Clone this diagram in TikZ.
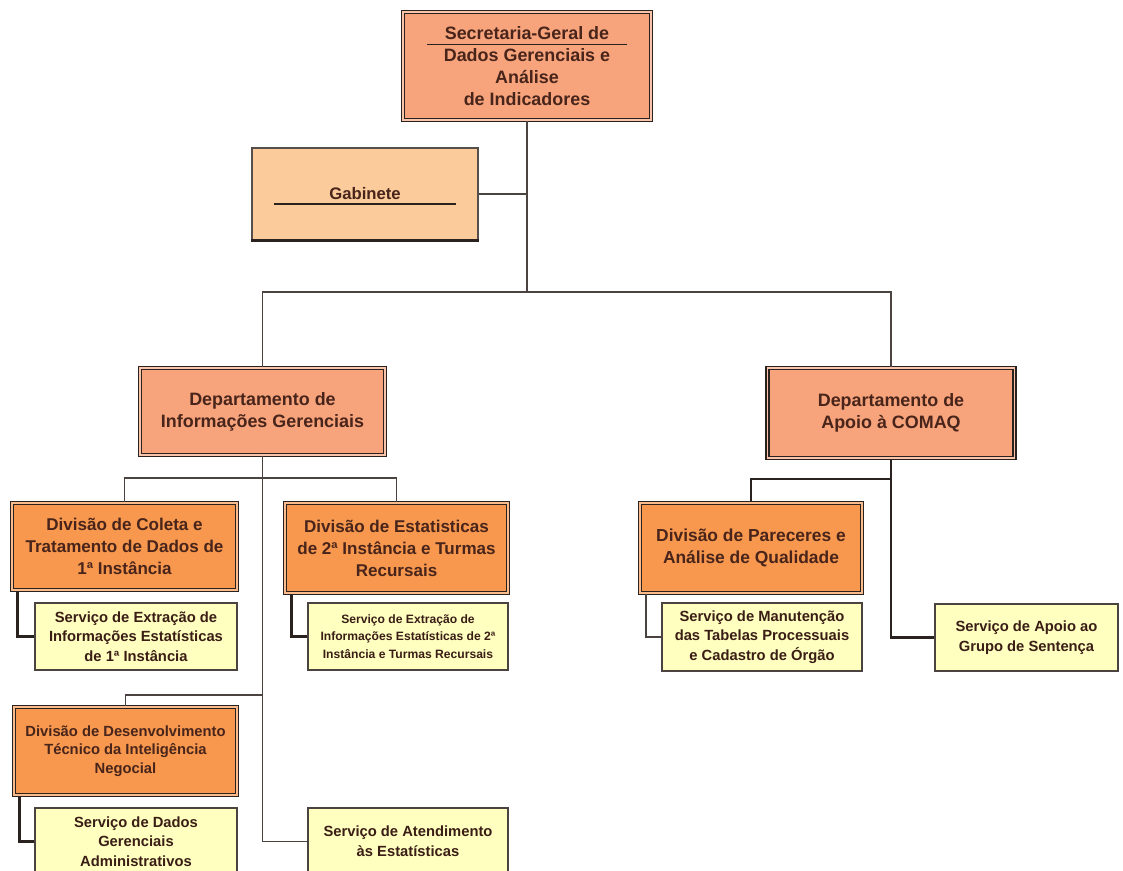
\documentclass[tikz,border=0pt]{standalone}
\usepackage{fontspec}
\setmainfont{Liberation Sans}
\usetikzlibrary{calc,positioning}
\definecolor{secfill}{RGB}{247,164,124}
\definecolor{gabfill}{RGB}{251,203,155}
\definecolor{divfill}{RGB}{247,152,78}
\definecolor{serfill}{RGB}{255,255,192}
\definecolor{boxtext}{RGB}{72,36,26}
\definecolor{edge}{RGB}{42,34,30}

\tikzset{
  orgbox/.style={draw=edge, line width=0.9pt, double=#1!65!white,
    double distance=0.7pt, fill=#1, align=center, inner sep=2pt,
    text=boxtext, font=\bfseries\fontsize{10.2}{12.5}\selectfont},
  gabbox/.style={draw=edge!80, line width=0.6pt, fill=gabfill,
    text=boxtext, font=\bfseries\fontsize{9.5}{12}\selectfont},
  serbox/.style={draw=edge!85, line width=0.9pt, fill=serfill,
    align=center, inner sep=2pt, text=boxtext!80!black,
    font=\bfseries\fontsize{8.4}{11.2}\selectfont},
  link/.style={draw=edge!85, line width=0.8pt},
  thicklink/.style={draw=edge, line width=1.5pt}
}

\begin{document}
\begin{tikzpicture}[x=0.02cm, y=-0.02cm]

\useasboundingbox (0,0) rectangle (1123,870);
\clip (0,0) rectangle (1123,870);

% Top of the chart
\node[orgbox=secfill, minimum width=4.96cm, minimum height=2.16cm] (sec) at (527,66)
  {Secretaria-Geral de\\Dados Gerenciais e\\Análise\\de Indicadores};
\draw[edge, line width=0.8pt] ($(sec.north west)+(25,33)$) -- ($(sec.north east)+(-25,33)$);

\node[gabbox, minimum width=4.52cm, minimum height=1.84cm] (gab) at (365,194) {Gabinete};
\draw[edge, line width=0.8pt] ($(gab.west)+(23,10)$) -- ($(gab.east)+(-23,10)$);
\draw[edge, line width=1.5pt] (gab.south west) -- (gab.south east);

% Departments
\node[orgbox=secfill, minimum width=4.9cm, minimum height=1.74cm] (dig) at (262.5,411.5)
  {Departamento de\\Informações Gerenciais};
\node[orgbox=secfill, minimum width=4.94cm, minimum height=1.8cm] (dac) at (891,413)
  {Departamento de\\Apoio à COMAQ};

% Divisions
\node[orgbox=divfill, minimum width=4.5cm, minimum height=1.74cm,
  font=\bfseries\fontsize{9.7}{12.5}\selectfont] (dcol) at (124.5,546.5)
  {Divisão de Coleta e\\Tratamento de Dados de\\1ª Instância};
\node[orgbox=divfill, minimum width=4.46cm, minimum height=1.8cm,
  font=\bfseries\fontsize{9.7}{12.5}\selectfont] (dest) at (396.5,548)
  {Divisão de Estatisticas\\de 2ª Instância e Turmas\\Recursais};
\node[orgbox=divfill, minimum width=4.44cm, minimum height=1.8cm,
  font=\bfseries\fontsize{9.9}{12.5}\selectfont] (dpar) at (751,548)
  {Divisão de Pareceres e\\Análise de Qualidade};
\node[orgbox=divfill, minimum width=4.46cm, minimum height=1.76cm,
  font=\bfseries\fontsize{8.4}{10.6}\selectfont] (ddes) at (125.5,751)
  {Divisão de Desenvolvimento\\Técnico da Inteligência\\Negocial};

% Services
\node[serbox, minimum width=4.04cm, minimum height=1.34cm] (sext1) at (136,636.5)
  {Serviço de Extração de\\Informações Estatísticas\\de 1ª Instância};
\node[serbox, minimum width=4cm, minimum height=1.34cm,
  font=\bfseries\fontsize{6.9}{10}\selectfont] (sext2) at (408,636.5)
  {Serviço de Extração de\\Informações Estatísticas de 2ª\\Instância e Turmas Recursais};
\node[serbox, minimum width=4cm, minimum height=1.36cm] (sman) at (762,637)
  {Serviço de Manutenção\\das Tabelas Processuais\\e Cadastro de Órgão};
\node[serbox, minimum width=3.66cm, minimum height=1.34cm] (sapo) at (1026.5,637.5)
  {Serviço de Apoio ao\\Grupo de Sentença};
\node[serbox, minimum width=4.04cm, minimum height=1.34cm] (sdad) at (136,841.5)
  {Serviço de Dados\\Gerenciais\\Administrativos};
\node[serbox, minimum width=4cm, minimum height=1.34cm] (satd) at (408,841.5)
  {Serviço de Atendimento\\às Estatísticas};

% Junctions
\coordinate (j1) at (527,292);
\coordinate (j2) at (262,478);
\coordinate (j3) at (262,695);
\coordinate (j4) at (891,479);

% Connectors
\draw[link, line width=1.2pt] (sec.south) -- (j1);
\draw[link] (gab.east) -- (sec.south |- gab.east);
\draw[link, line width=1.1pt] (dig.north) |- (j1) -| (dac.north);
\draw[link] (dig.south) |- (satd.west);
\draw[link] (dcol.north) |- (j2) -| (dest.north);
\draw[link] (ddes.north) |- (j3);
\draw[thicklink] (dac.south) |- (sapo.west);
\draw[thicklink] (dpar.north) |- (j4);
\draw[thicklink] ([xshift=0.12cm]dcol.south west) |- (sext1.west);
\draw[thicklink] ([xshift=0.14cm]dest.south west) |- (sext2.west);
\draw[link, line width=1.1pt] ([xshift=0.14cm]dpar.south west) |- (sman.west);
\draw[thicklink] ([xshift=0.12cm]ddes.south west) |- (sdad.west);

\end{tikzpicture}
\end{document}
